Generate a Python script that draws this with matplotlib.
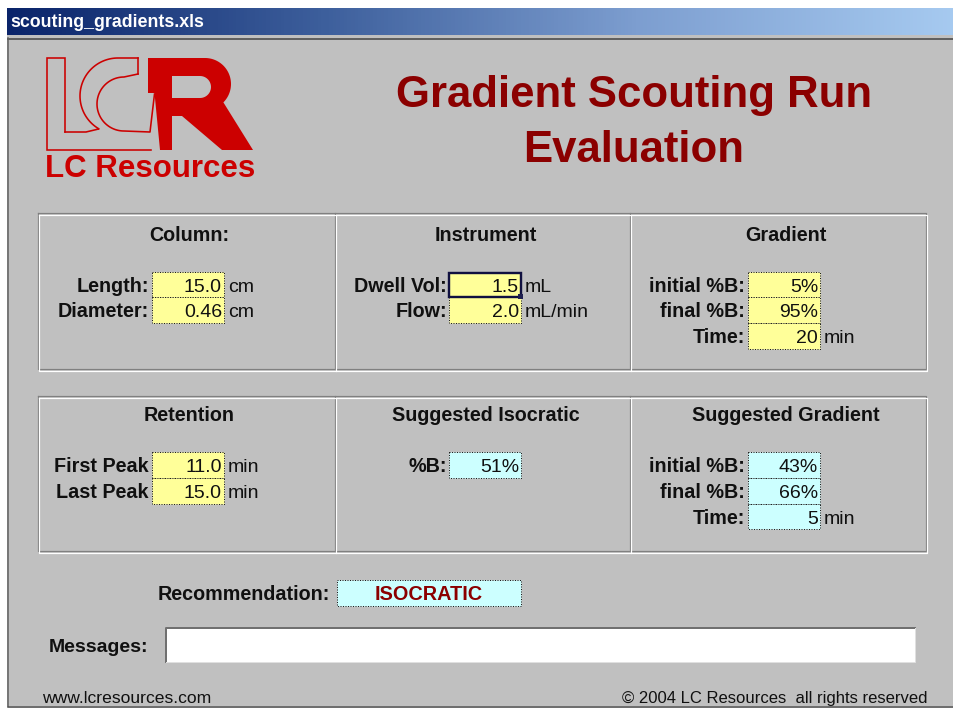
import numpy as np
import matplotlib
matplotlib.use("Agg")
import matplotlib.pyplot as plt
from matplotlib.patches import Rectangle, Polygon
from matplotlib.colors import LinearSegmentedColormap

# ---------------- data ----------------
window_title = "scouting_gradients.xls"
title_lines = ["Gradient Scouting Run", "Evaluation"]
logo_text = "LC Resources"

column_title = "Column:"
column_labels = ["Length:", "Diameter:"]
column_values = ["15.0", "0.46"]
column_units = ["cm", "cm"]

instrument_title = "Instrument"
instrument_labels = ["Dwell Vol:", "Flow:"]
instrument_values = ["1.5", "2.0"]
instrument_units = ["mL", "mL/min"]

gradient_title = "Gradient"
gradient_labels = ["initial %B:", "final %B:", "Time:"]
gradient_values = ["5%", "95%", "20"]
gradient_units = ["", "", "min"]

retention_title = "Retention"
retention_labels = ["First Peak", "Last Peak"]
retention_values = ["11.0", "15.0"]
retention_units = ["min", "min"]

iso_title = "Suggested Isocratic"
iso_labels = ["%B:"]
iso_values = ["51%"]
iso_units = [""]

sgrad_title = "Suggested Gradient"
sgrad_labels = ["initial %B:", "final %B:", "Time:"]
sgrad_values = ["43%", "66%", "5"]
sgrad_units = ["", "", "min"]

recommendation_label = "Recommendation:"
recommendation = "ISOCRATIC"
messages_label = "Messages:"
footer_left = "www.lcresources.com"
footer_right = "\u00a9 2004 LC Resources  all rights reserved"

# ---------------- style ----------------
FONT = "Liberation Sans"
BG = "#c0c0c0"
YELLOW = "#ffff99"
CYAN = "#ccffff"
DARKRED = "#8b0000"
LOGORED = "#cc0000"
PX = 0.72  # points per pixel at dpi 100
LABEL_FS = 14.2
VALUE_FS = 14.0

fig = plt.figure(figsize=(9.54, 7.09), dpi=100, facecolor="white")
ax = fig.add_axes([0, 0, 1, 1])
ax.set_xlim(0, 954)
ax.set_ylim(709, 0)
ax.axis("off")

# window body
ax.add_patch(Rectangle((7, 35), 954 - 7, 706 - 35, facecolor=BG, edgecolor="none"))
ax.plot([8.5, 8.5], [38, 706], color="#606060", lw=1.5 * PX)
ax.plot([8.5, 954], [38.5, 38.5], color="#606060", lw=2 * PX)
ax.plot([8, 954], [706.5, 706.5], color="#404040", lw=1.5 * PX)

# title bar gradient
cmap = LinearSegmentedColormap.from_list("tb", ["#0a246a", "#3d5f9c", "#7d9ed0", "#a6caf0"])
grad = np.linspace(0, 1, 256).reshape(1, -1)
ax.imshow(grad, extent=(7, 954, 35, 8), cmap=cmap, aspect="auto", zorder=1)
ax.text(10, 27, window_title, color="white", fontsize=12.8, fontweight="bold",
        family=FONT, va="baseline", ha="left", zorder=2)

# ---------------- logo ----------------
lw_logo = 1.6 * PX
# L outline
ax.plot([65, 65, 47, 47, 151], [132, 58, 58, 150, 150], color=LOGORED, lw=lw_logo,
        solid_joinstyle="miter")
# C outer arc
t = np.radians(np.linspace(90, 240, 60))
cx, cy, r = 118, 96, 38
ox = cx + r * np.cos(t)
oy = cy - r * np.sin(t)
ax.plot(np.r_[138, ox, 86, 65], np.r_[58, oy, 132, 132], color=LOGORED, lw=lw_logo)
# C inner arc
t2 = np.radians(np.linspace(90, 270, 60))
icx, icy, ir = 124, 104, 27
ix = icx + ir * np.cos(t2)
iy = icy - ir * np.sin(t2)
ax.plot(np.r_[138, ix, 150, 154.5], np.r_[74, iy, 132, 94], color=LOGORED, lw=lw_logo)
ax.plot([138, 138], [58, 74], color=LOGORED, lw=lw_logo)
# R filled
tb = np.radians(np.linspace(90, -45, 40))
bx = 205 + 26 * np.cos(tb)
by = 84 - 26 * np.sin(tb)
r_poly = np.c_[np.r_[148, bx, 253, 222, 182, 172, 172, 160, 154.5, 148],
               np.r_[58, by, 150, 150, 116, 116, 150, 150, 93, 93]]
ax.add_patch(Polygon(r_poly, closed=True, facecolor=LOGORED, edgecolor="none"))
th = np.radians(np.linspace(90, -90, 30))
hx = 200 + 11 * np.cos(th)
hy = 87 - 11 * np.sin(th)
hole = np.c_[np.r_[172, hx, 172], np.r_[76, hy, 98]]
ax.add_patch(Polygon(hole, closed=True, facecolor=BG, edgecolor="none"))
ax.text(45, 177, logo_text, color=LOGORED, fontsize=22.5, fontweight="bold",
        family=FONT, ha="left", va="baseline")

# ---------------- title ----------------
ax.text(634, 107, title_lines[0], color=DARKRED, fontsize=31.5, fontweight="bold",
        family=FONT, ha="center", va="baseline")
ax.text(634, 162, title_lines[1], color=DARKRED, fontsize=31.5, fontweight="bold",
        family=FONT, ha="center", va="baseline")


# ---------------- panels ----------------
def etched_box(x0, y0, x1, y1, dividers):
    for off, col in ((0, "#808080"), (1.5, "white")):
        ax.plot([x0 + off, x1 + off, x1 + off, x0 + off, x0 + off],
                [y0 + off, y0 + off, y1 + off, y1 + off, y0 + off],
                color=col, lw=1.2 * PX, zorder=2)
        for d in dividers:
            ax.plot([d + off, d + off], [y0 + off, y1 + off], color=col, lw=1.2 * PX, zorder=2)


etched_box(38, 213, 926, 369, [335, 630])
etched_box(38, 396, 926, 551, [335, 630])

ROW_H = 25.8


def panel(title, tx, ty, labels, values, units, label_right, cell_x0, cell_x1, row_top, color):
    ax.text(tx, ty, title, fontsize=LABEL_FS, fontweight="bold", family=FONT,
            ha="center", va="baseline", color="#101010")
    for i, (lab, val, unit) in enumerate(zip(labels, values, units)):
        y0 = row_top + i * ROW_H
        ax.add_patch(Rectangle((cell_x0, y0), cell_x1 - cell_x0, ROW_H, facecolor=color,
                               edgecolor="#202020", lw=1.0 * PX, linestyle=(0, (1, 1.5)), zorder=3))
        base = y0 + ROW_H / 2 + 7.2
        ax.text(label_right, base, lab, fontsize=LABEL_FS, fontweight="bold", family=FONT,
                ha="right", va="baseline", color="#101010", zorder=4)
        ax.text(cell_x1 - 2, base, val, fontsize=VALUE_FS, family=FONT,
                ha="right", va="baseline", color="#101010", zorder=4)
        if unit:
            ax.text(cell_x1 + 4, base, unit, fontsize=VALUE_FS, family=FONT,
                    ha="left", va="baseline", color="#101010", zorder=4)


panel(column_title, 189, 241, column_labels, column_values, column_units, 149, 152, 224, 271.5, YELLOW)
panel(instrument_title, 486, 241, instrument_labels, instrument_values, instrument_units, 447, 449, 521, 271.5, YELLOW)
panel(gradient_title, 786, 241, gradient_labels, gradient_values, gradient_units, 745, 748, 820, 271.5, YELLOW)
panel(retention_title, 189, 421, retention_labels, retention_values, retention_units, 149, 152, 224, 452, YELLOW)
panel(iso_title, 486, 421, iso_labels, iso_values, iso_units, 447, 449, 521, 452, CYAN)
panel(sgrad_title, 786, 421, sgrad_labels, sgrad_values, sgrad_units, 745, 748, 820, 452, CYAN)

# selected cell (Dwell Vol)
ax.add_patch(Rectangle((449.5, 272.5), 71.5, ROW_H - 1.5, facecolor="none",
                       edgecolor="#101040", lw=2.4 * PX, zorder=5))
ax.add_patch(Rectangle((518, 294), 5, 5, facecolor="#202050", edgecolor="none", zorder=6))

# recommendation
ax.add_patch(Rectangle((337, 580), 184, 26, facecolor=CYAN, edgecolor="#202020",
                       lw=1.0 * PX, linestyle=(0, (1, 1.5)), zorder=3))
ax.text(330, 600.5, recommendation_label, fontsize=LABEL_FS, fontweight="bold", family=FONT,
        ha="right", va="baseline", color="#101010")
ax.text(429, 600.5, recommendation, fontsize=14.3, fontweight="bold", family=FONT,
        ha="center", va="baseline", color=DARKRED, zorder=4)

# messages
ax.add_patch(Rectangle((166, 628), 749, 34, facecolor="white", edgecolor="none", zorder=3))
ax.plot([166, 166, 915], [662, 628, 628], color="#707070", lw=2 * PX, zorder=4)
ax.plot([166, 915, 915], [662, 662, 628], color="#e0e0e0", lw=1 * PX, zorder=4)
ax.text(148, 652, messages_label, fontsize=14.0, fontweight="bold", family=FONT,
        ha="right", va="baseline", color="#101010")

# footer
ax.text(42, 703, footer_left, fontsize=12.6, family=FONT, ha="left", va="baseline", color="#101010")
ax.text(928, 703, footer_right, fontsize=12.0, family=FONT, ha="right", va="baseline", color="#101010")

fig.savefig("out.png", dpi=100, facecolor="white")
